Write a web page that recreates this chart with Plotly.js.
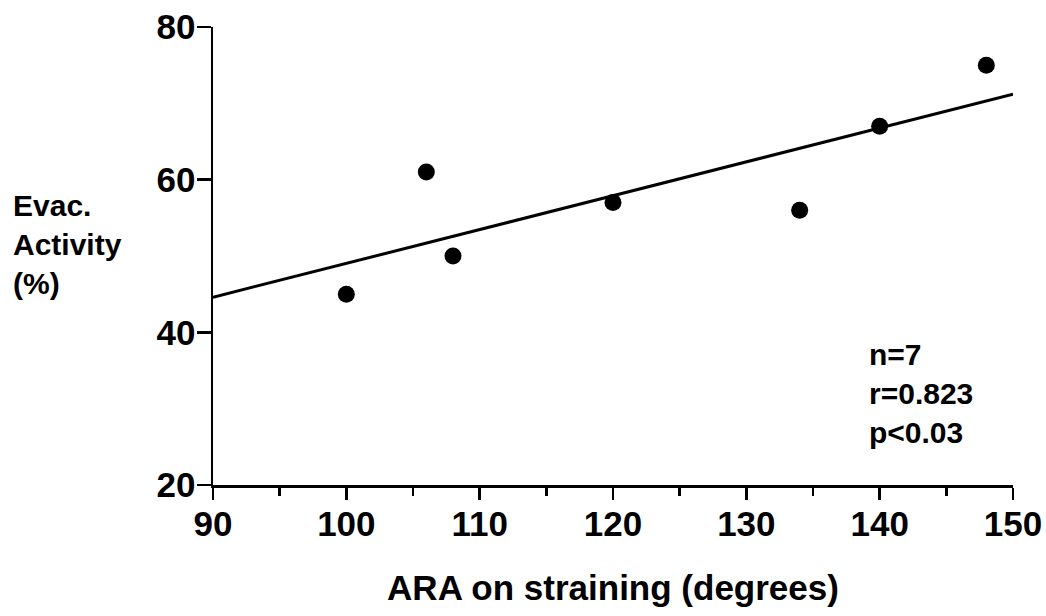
<!DOCTYPE html>
<html>
<head>
<meta charset="utf-8">
<script src="https://cdn.plot.ly/plotly-3.0.1.min.js"></script>
<style>html,body{margin:0;padding:0;background:#fff;}#chart{width:1046px;height:616px;}</style>
</head>
<body>
<div id="chart"></div>
<script>
// Data
const ara = [100, 106, 108, 120, 134, 140, 148];
const evacActivity = [45, 61, 50, 57, 56, 67, 75];
// Regression line endpoints as drawn
const fitX = [90, 150];
const fitY = [44.6, 71.2];
const xTicks = [90, 100, 110, 120, 130, 140, 150];
const yTicks = [20, 40, 60, 80];
const statsLines = ["n=7", "r=0.823", "p<0.03"];

const F = "Liberation Sans, Arial, Helvetica, sans-serif";

const traces = [
  {x: fitX, y: fitY, mode: "lines", line: {color: "#000", width: 3}, hoverinfo: "skip", cliponaxis: false},
  {x: ara, y: evacActivity, mode: "markers", marker: {color: "#000", size: 17}, cliponaxis: false}
];

const layout = {
  width: 1046, height: 616,
  margin: {l: 213, r: 33, t: 27, b: 131},
  paper_bgcolor: "#fff", plot_bgcolor: "#fff",
  showlegend: false,
  xaxis: {
    range: [90, 150], tickvals: xTicks, ticktext: xTicks.map(String),
    showgrid: false, zeroline: false, showline: true, linecolor: "#000", linewidth: 2.5,
    ticks: "outside", ticklen: 12, tickwidth: 2.5, tickcolor: "#000",
    minor: {dtick: 5, tick0: 90, ticks: "outside", ticklen: 8, tickwidth: 2.5, tickcolor: "#000", showgrid: false},
    tickfont: {family: F, size: 35, color: "#000", weight: "bold"},
    ticklabelstandoff: -6,
    title: {text: "ARA on straining (degrees)", font: {family: F, size: 35, color: "#000", weight: "bold"}, standoff: 34},
    fixedrange: true
  },
  yaxis: {
    range: [20, 80], tickvals: yTicks, ticktext: yTicks.map(String),
    showgrid: false, zeroline: false, showline: true, linecolor: "#000", linewidth: 2.5,
    ticks: "outside", ticklen: 14, tickwidth: 2.5, tickcolor: "#000",
    tickfont: {family: F, size: 35, color: "#000", weight: "bold"},
    ticklabelstandoff: -6,
    fixedrange: true
  },
  annotations: [
    {xref: "paper", yref: "paper", x: -0.252, y: 0.525, xanchor: "left", yanchor: "middle", align: "left",
     text: "Evac.<br>Activity<br>(%)", showarrow: false,
     font: {family: F, size: 30, color: "#000", weight: "bold"}},
    {xref: "paper", yref: "paper", x: 0.818, y: 0.199, xanchor: "left", yanchor: "middle", align: "left",
     text: statsLines.join("<br>"), showarrow: false,
     font: {family: F, size: 30, color: "#000", weight: "bold"}}
  ]
};

Plotly.newPlot("chart", traces, layout, {staticPlot: true, displayModeBar: false});
</script>
</body>
</html>
